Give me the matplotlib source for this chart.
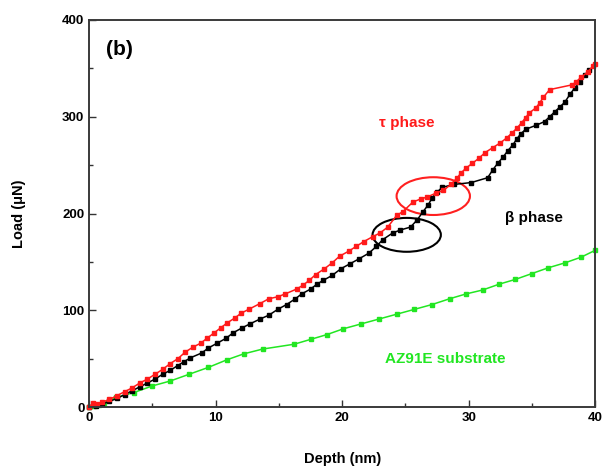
import matplotlib
matplotlib.use('Agg')
import matplotlib.pyplot as plt
from matplotlib.patches import Ellipse
from matplotlib.ticker import MultipleLocator

plt.rcParams['font.family'] = ['Liberation Sans', 'DejaVu Sans']
plt.rcParams['font.weight'] = 'bold'

# tau phase (red)
red_x = [0, 0.3, 0.6, 1.0, 1.6, 2.2, 2.8, 3.4, 4.0, 4.6, 5.2, 5.8, 6.4, 7.0, 7.6, 8.2, 8.8, 9.3,
         9.9, 10.4, 10.9, 11.5, 12.0, 12.6, 13.5, 14.2, 14.9, 15.5, 16.4, 16.9, 17.4, 17.9, 18.6, 19.2,
         19.8, 20.5, 21.1, 21.7, 22.4, 23.0, 23.6, 24.3, 24.8, 25.6, 26.2, 26.7, 27.4, 28.0, 28.6,
         29.1, 29.4, 29.8, 30.3, 30.8, 31.3, 31.9, 32.5, 33.0, 33.4, 33.8, 34.2, 34.5, 34.8, 35.3,
         35.6, 35.9, 36.4, 38.2, 38.5, 38.9, 39.4, 39.8, 40.0]
red_y = [0, 4, 3, 5, 8, 12, 16, 20, 25, 29, 34, 39, 45, 50, 57, 62, 66, 71,
         77, 82, 87, 92, 97, 101, 107, 112, 114, 117, 122, 126, 131, 137, 143, 149,
         156, 161, 166, 171, 176, 180, 186, 198, 202, 212, 215, 217, 221, 224, 230,
         237, 242, 247, 252, 257, 263, 268, 273, 278, 283, 288, 294, 299, 304, 309,
         314, 320, 328, 333, 336, 341, 346, 352, 354]

# beta phase (black)
black_x = [0, 0.5, 1.0, 1.6, 2.2, 2.8, 3.4, 4.0, 4.6, 5.2, 5.8, 6.4, 7.0, 7.5, 8.0, 8.9, 9.4,
           10.1, 10.8, 11.4, 12.1, 12.7, 13.5, 14.2, 14.9, 15.6, 16.3, 16.8, 17.5, 18.0, 18.5,
           19.2, 19.9, 20.6, 21.3, 22.1, 22.7, 23.2, 24.0, 24.6, 25.4, 25.9, 26.4, 26.8, 27.1,
           27.5, 27.9, 28.8, 30.2, 31.5, 31.9, 32.3, 32.7, 33.1, 33.5, 33.8, 34.1, 34.5, 35.3,
           36.0, 36.4, 36.8, 37.2, 37.6, 38.0, 38.4, 38.8, 39.2, 39.5]
black_y = [0, 1, 3, 6, 9, 13, 17, 21, 25, 29, 34, 38, 43, 47, 51, 56, 61,
           66, 71, 77, 82, 86, 91, 95, 101, 106, 112, 117, 122, 127, 131,
           136, 143, 148, 153, 159, 166, 173, 180, 183, 186, 193, 202, 209, 216,
           222, 227, 230, 232, 237, 245, 252, 258, 265, 271, 277, 282, 287, 291,
           295, 300, 305, 310, 315, 323, 330, 336, 343, 348]

# AZ91E substrate (green)
green_x = [0, 0.4, 0.8, 1.2, 2.1, 3.5, 5.0, 6.4, 7.9, 9.4, 10.9, 12.2, 13.7, 16.2, 17.5, 18.8,
           20.1, 21.5, 22.9, 24.3, 25.7, 27.1, 28.5, 29.8, 31.1, 32.4, 33.7, 35.0, 36.3, 37.6,
           38.9, 40.0]
green_y = [0, 1, 2, 4, 10, 15, 22, 27, 34, 41, 49, 55, 60, 65, 70, 75,
           81, 86, 91, 96, 101, 106, 112, 117, 121, 127, 132, 138, 144, 149,
           155, 162]

fig = plt.figure(figsize=(6.03, 4.74), dpi=100)
ax = fig.add_axes([0.148, 0.141, 0.839, 0.817])

ax.plot(green_x, green_y, '-s', color='#22e622', ms=3.0, lw=1.1, clip_on=False)
ax.plot(black_x, black_y, '-s', color='black', ms=3.0, lw=1.1, clip_on=False)
ax.plot(red_x, red_y, '-s', color='#ff1a1a', ms=3.0, lw=1.1, clip_on=False)

# circles
ax.add_patch(Ellipse((27.2, 218), 5.8, 39, fill=False, ec='#ff2020', lw=1.5))
ax.add_patch(Ellipse((25.1, 178), 5.4, 35, fill=False, ec='black', lw=1.5))

ax.text(1.3, 369, '(b)', fontsize=15, fontweight='bold', va='center')
ax.text(22.9, 294, 'τ phase', color='#ff1a1a', fontsize=11, fontweight='bold', va='center')
ax.text(32.9, 195, 'β phase', color='black', fontsize=11, fontweight='bold', va='center')
ax.text(23.4, 50, 'AZ91E substrate', color='#22e622', fontsize=11, fontweight='bold', va='center')

ax.set_xlim(0, 40)
ax.set_ylim(0, 400)
ax.xaxis.set_major_locator(MultipleLocator(10))
ax.xaxis.set_minor_locator(MultipleLocator(5))
ax.yaxis.set_major_locator(MultipleLocator(100))
ax.yaxis.set_minor_locator(MultipleLocator(50))
ax.tick_params(which='both', direction='in', top=False, right=False, width=1, color='#333333',
               labelsize=9.5)
ax.tick_params(which='major', length=5)
ax.tick_params(which='minor', length=3)
for lab in ax.get_xticklabels() + ax.get_yticklabels():
    lab.set_fontweight('bold')
for s in ax.spines.values():
    s.set_linewidth(1.4)
    s.set_color('#3a3a3a')

ax.set_xlabel('Depth (nm)', fontsize=10.5, fontweight='bold', labelpad=20)
ax.set_ylabel('Load (μN)', fontsize=10.5, fontweight='bold', labelpad=26)

fig.savefig('out.png', dpi=100)
